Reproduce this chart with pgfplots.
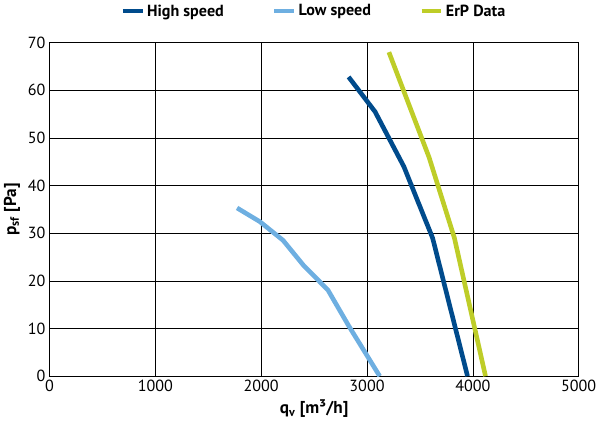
\documentclass[border=0pt]{standalone}
\usepackage{pgfplots}
\pgfplotsset{compat=1.18}
\usepackage{fontspec}
\setmainfont{PT Sans}
\definecolor{hs}{RGB}{0,75,140}
\definecolor{ls}{RGB}{110,175,225}
\definecolor{erp}{RGB}{190,205,40}
\begin{document}
\begin{tikzpicture}
\begin{axis}[
width=460pt, height=290pt, scale only axis,
xmin=0,xmax=5000,ymin=0,ymax=70,
xtick={0,1000,...,5000}, ytick={0,10,...,70},
grid=major, grid style={black,thin},
axis line style={black},
tick style={draw=none},
/pgf/number format/assume math mode=true,
/pgf/number format/1000 sep={},
ticklabel style={font=\fontsize{14}{16}\selectfont},
xlabel={\textbf{q\textsubscript{v} [m³/h]}},
ylabel={\textbf{p\textsubscript{sf} [Pa]}},
label style={font=\fontsize{15}{17}\selectfont},
legend style={at={(0.5,1.06)},anchor=south,draw=none,legend columns=3,font=\bfseries\fontsize{14}{16}\selectfont,/tikz/every even column/.append style={column sep=40pt}},
legend image post style={line width=4pt},
]
\addplot[hs,line width=4pt] coordinates {(2826,62.8)(3076,55.5)(3348,44)(3620,29)(3950,0)};
\addlegendentry{High speed}
\addplot[ls,line width=4pt] coordinates {(1772,35.3)(1989,32.4)(2207,28.5)(2402,23.2)(2630,18.1)(2826,10.6)(3120,0)};
\addlegendentry{Low speed}
\addplot[erp,line width=4pt] coordinates {(3207,68)(3587,45.9)(3826,29)(4120,0)};
\addlegendentry{ErP Data}
\end{axis}
\end{tikzpicture}
\end{document}
